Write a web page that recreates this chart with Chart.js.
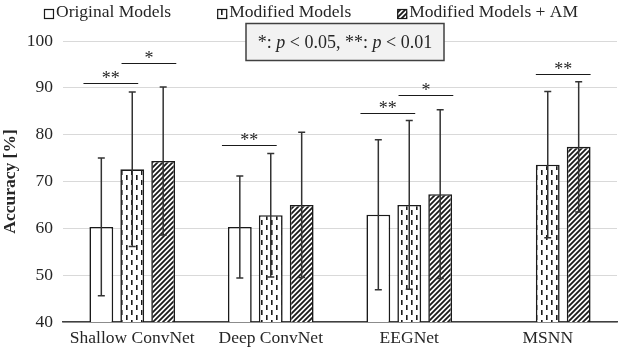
<!DOCTYPE html>
<html>
<head>
<meta charset="utf-8">
<script src="https://cdn.jsdelivr.net/npm/chart.js@4"></script>
<style>
  html, body { margin: 0; padding: 0; background: #fff; }
  #chart { display: block; }
</style>
</head>
<body>
<canvas id="chart" width="618" height="352"></canvas>
<script>
// values (mean accuracy and standard deviation, %)
const categories = ['Shallow ConvNet', 'Deep ConvNet', 'EEGNet', 'MSNN'];
const seriesNames = ['Original Models', 'Modified Models', 'Modified Models + AM'];
const originalMeans = [60.3, 60.3, 62.9, null];
const originalSd = [14.7, 10.9, 16.0, null];
const modifiedMeans = [72.6, 62.8, 65.0, 73.6];
const modifiedSd = [16.5, 13.2, 18.0, 15.6];
const amMeans = [74.4, 65.0, 67.3, 77.4];
const amSd = [15.8, 15.5, 18.0, 13.9];
const yTicks = [40, 50, 60, 70, 80, 90, 100];

// significance markers: category, the two bars joined, height of the line, label
const sigCats = [0, 0, 1, 2, 2, 3];
const sigFrom = [0, 1, 0, 0, 1, 1];
const sigTo = [1, 2, 1, 1, 2, 2];
const sigLevel = [91.1, 95.2, 77.8, 84.6, 88.5, 93.0];
const sigLabel = ['**', '*', '**', '**', '*', '**'];

const FONT = '"Liberation Serif", "Times New Roman", serif';
const TEXT = '#262626';

function makeDashPattern() {
    const c = document.createElement('canvas');
    c.width = 10; c.height = 10;
    const g = c.getContext('2d');
    g.fillStyle = '#fff';
    g.fillRect(0, 0, 10, 10);
    g.fillStyle = '#1a1a1a';
    g.fillRect(1, 0, 1.6, 5);
    g.fillRect(6, 5, 1.6, 5);
    return g.createPattern(c, 'repeat');
}

function makeHatchPattern() {
    const c = document.createElement('canvas');
    c.width = 5; c.height = 5;
    const g = c.getContext('2d');
    g.fillStyle = '#fff';
    g.fillRect(0, 0, 5, 5);
    g.strokeStyle = '#1a1a1a';
    g.lineWidth = 1.8;
    g.beginPath();
    g.moveTo(-1, 6); g.lineTo(6, -1);
    g.moveTo(-1, 1); g.lineTo(1, -1);
    g.moveTo(4, 6); g.lineTo(6, 4);
    g.stroke();
    return g.createPattern(c, 'repeat');
}

const fills = ['#ffffff', makeDashPattern(), makeHatchPattern()];
const sds = [originalSd, modifiedSd, amSd];

const errorBars = {
    id: 'errorBars',
    afterDatasetsDraw(chart) {
        const ctx = chart.ctx;
        const y = chart.scales.y;
        ctx.save();
        ctx.strokeStyle = '#333333';
        ctx.lineWidth = 1.5;
        chart.data.datasets.forEach((ds, i) => {
            const meta = chart.getDatasetMeta(i);
            meta.data.forEach((bar, j) => {
                const m = ds.data[j];
                if (m == null) return;
                const sd = sds[i][j];
                const top = y.getPixelForValue(m + sd);
                const bot = y.getPixelForValue(m - sd);
                ctx.beginPath();
                ctx.moveTo(bar.x, top); ctx.lineTo(bar.x, bot);
                ctx.moveTo(bar.x - 3.5, top); ctx.lineTo(bar.x + 3.5, top);
                ctx.moveTo(bar.x - 3.5, bot); ctx.lineTo(bar.x + 3.5, bot);
                ctx.stroke();
            });
        });
        ctx.restore();
    }
};

const annotations = {
    id: 'annotations',
    afterDraw(chart) {
        const ctx = chart.ctx;
        const y = chart.scales.y;
        const x = chart.scales.x;
        ctx.save();

        // significance lines
        sigCats.forEach((c, k) => {
            const a = chart.getDatasetMeta(sigFrom[k]).data[c];
            const b = chart.getDatasetMeta(sigTo[k]).data[c];
            const w = a.width;
            const lead = sigFrom[k] === 0 ? 0.75 : (c === 3 ? 0.5 : 0.45);
            const x1 = a.x - lead * w;
            const x2 = b.x + (1 - lead) * w;
            const yy = Math.round(y.getPixelForValue(sigLevel[k])) + 0.5;
            ctx.strokeStyle = '#1a1a1a';
            ctx.lineWidth = 1.2;
            ctx.beginPath();
            ctx.moveTo(x1, yy); ctx.lineTo(x2, yy);
            ctx.stroke();
            ctx.fillStyle = TEXT;
            ctx.font = '18px ' + FONT;
            ctx.textAlign = 'center';
            ctx.textBaseline = 'alphabetic';
            ctx.fillText(sigLabel[k], (x1 + x2) / 2, yy + 0.5);
        });

        // note box
        const cx = (x.getPixelForValue(1) + x.getPixelForValue(2)) / 2 + 5;
        const cy = y.getPixelForValue(100) + 1;
        const bw = 198, bh = 37;
        ctx.fillStyle = '#f2f2f2';
        ctx.fillRect(cx - bw / 2, cy - bh / 2, bw, bh);
        ctx.strokeStyle = '#404040';
        ctx.lineWidth = 1.5;
        ctx.strokeRect(cx - bw / 2, cy - bh / 2, bw, bh);
        const parts = [['*: ', false], ['p', true], [' < 0.05, **: ', false], ['p', true], [' < 0.01', false]];
        let total = 0;
        parts.forEach(p => {
            ctx.font = (p[1] ? 'italic ' : '') + '18px ' + FONT;
            total += ctx.measureText(p[0]).width;
        });
        let tx = cx - total / 2;
        ctx.fillStyle = TEXT;
        ctx.textAlign = 'left';
        parts.forEach(p => {
            ctx.font = (p[1] ? 'italic ' : '') + '18px ' + FONT;
            ctx.fillText(p[0], tx, cy + 6);
            tx += ctx.measureText(p[0]).width;
        });

        // legend
        ctx.font = '17.5px ' + FONT;
        const gap = 46, box = 10, pad = 2;
        const widths = seriesNames.map(n => box + pad + ctx.measureText(n).width);
        const legendW = widths.reduce((s, v) => s + v, 0) + gap * (widths.length - 1);
        let lx = chart.width / 2 + 2 - legendW / 2;
        seriesNames.forEach((n, i) => {
            ctx.fillStyle = fills[i];
            ctx.fillRect(lx, 9, box, box);
            ctx.strokeStyle = '#1a1a1a';
            ctx.lineWidth = 1.2;
            ctx.strokeRect(lx + 0.5, 9.5, box - 1, box - 1);
            ctx.fillStyle = TEXT;
            ctx.fillText(n, lx + box + pad, 17);
            lx += widths[i] + gap;
        });
        ctx.restore();
    }
};

new Chart(document.getElementById('chart'), {
    type: 'bar',
    data: {
        labels: categories,
        datasets: [
            { label: seriesNames[0], data: originalMeans, backgroundColor: fills[0] },
            { label: seriesNames[1], data: modifiedMeans, backgroundColor: fills[1] },
            { label: seriesNames[2], data: amMeans, backgroundColor: fills[2] }
        ]
    },
    options: {
        responsive: false,
        animation: false,
        layout: { padding: { top: 41, right: 1, bottom: 0, left: 0 } },
        datasets: {
            bar: {
                categoryPercentage: 0.67,
                barPercentage: 0.77,
                borderColor: '#1a1a1a',
                borderWidth: 1.6
            }
        },
        plugins: {
            legend: { display: false },
            tooltip: { enabled: false }
        },
        scales: {
            x: {
                grid: { display: false, drawTicks: false },
                border: { display: true, color: '#404040', width: 1.5 },
                ticks: { color: TEXT, font: { family: FONT, size: 17.5 }, padding: 6 },
                afterFit: s => { s.height = 30; }
            },
            y: {
                min: 40,
                max: 100,
                afterBuildTicks: s => { s.ticks = yTicks.map(v => ({ value: v })); },
                grid: { color: '#d9d9d9', lineWidth: 1, drawTicks: false },
                border: { display: false },
                ticks: { color: TEXT, font: { family: FONT, size: 17.5 }, padding: 10 },
                title: {
                    display: true,
                    text: 'Accuracy [%]',
                    color: TEXT,
                    font: { family: FONT, size: 17.5, weight: 'bold' },
                    padding: { top: 0, bottom: 3 }
                },
                afterFit: s => { s.width = 63; }
            }
        }
    },
    plugins: [errorBars, annotations]
});
</script>
</body>
</html>
